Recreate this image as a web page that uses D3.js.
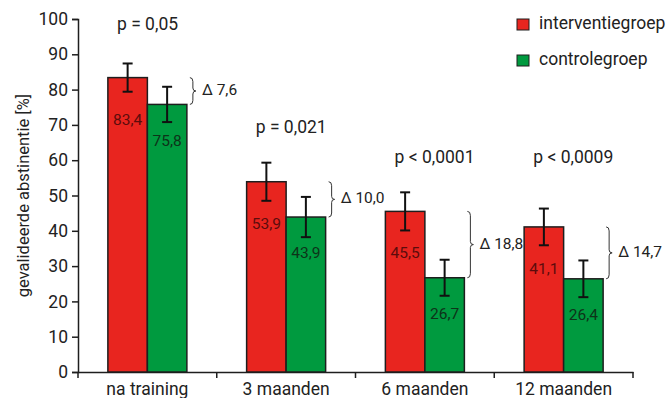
<!DOCTYPE html>
<html>
<head>
<meta charset="utf-8">
<script src="https://cdn.jsdelivr.net/npm/d3@7/dist/d3.min.js"></script>
<style>
  html, body { margin: 0; padding: 0; background: #fff; }
  svg text { font-family: Roboto, "Liberation Sans", sans-serif; fill: #222; }
</style>
</head>
<body>
<svg id="chart" width="669" height="398"></svg>
<script>
// ---- data ----
const categories = ["na training", "3 maanden", "6 maanden", "12 maanden"];
const seriesNames = ["interventiegroep", "controlegroep"];
const interventie = [83.4, 53.9, 45.5, 41.1];
const controle = [75.8, 43.9, 26.7, 26.4];
const errInterventie = [4.0, 5.4, 5.4, 5.2];
const errControle = [5.0, 5.7, 5.1, 5.2];
const pLabels = ["p = 0,05", "p = 0,021", "p < 0,0001", "p < 0,0009"];
const pLabelAt = [98.3, 69.1, 60.6, 60.6];
const deltaLabels = ["Δ 7,6", "Δ 10,0", "Δ 18,8", "Δ 14,7"];
const yTicks = [0, 10, 20, 30, 40, 50, 60, 70, 80, 90, 100];

// ---- layout ----
const svg = d3.select("#chart");
const mLeft = 78, mRight = 633, mTop = 19, mBottom = 372;
const colors = ["#e8251f", "#009a3f"];
const labelColors = ["#5c0c0c", "#0d3319"];

const y = d3.scaleLinear().domain([0, 100]).range([mBottom, mTop]);
const x = d3.scaleBand().domain(categories).range([mLeft, mRight]).padding(0);
const bw = x.bandwidth();
const xs = d3.scaleBand().domain(seriesNames).range([bw / 2 - 39.5, bw / 2 + 39.5]).padding(0);

// axes
const yAxis = svg.append("g").attr("transform", `translate(${mLeft},0)`)
  .call(d3.axisLeft(y).tickValues(yTicks).tickSize(6).tickPadding(4));
yAxis.selectAll("text").style("font-size", "17.5px");
yAxis.select(".domain").attr("stroke", "#1e1e1e").attr("stroke-width", 1.5);
yAxis.selectAll(".tick line").attr("stroke", "#1e1e1e").attr("stroke-width", 1.5);

const xAxis = svg.append("g").attr("transform", `translate(0,${mBottom})`)
  .call(d3.axisBottom(x).tickSize(0).tickPadding(11));
xAxis.selectAll("text").style("font-size", "17.5px");
xAxis.select(".domain").attr("stroke", "#1e1e1e").attr("stroke-width", 1.5);
// boundary ticks
const boundaries = categories.map(c => x(c)).concat([x(categories[categories.length - 1]) + bw]);
xAxis.selectAll(".bt").data(boundaries).join("line").attr("class", "bt")
  .attr("x1", d => d).attr("x2", d => d).attr("y1", 0).attr("y2", 6)
  .attr("stroke", "#1e1e1e").attr("stroke-width", 1.5);

// y title
svg.append("text")
  .attr("transform", `translate(25,${(mTop + mBottom) / 2}) rotate(-90)`)
  .attr("text-anchor", "middle").attr("dominant-baseline", "middle")
  .style("font-size", "16.5px")
  .text("gevalideerde abstinentie [%]");

// bars
const rows = categories.map((c, i) => ({
  cat: c,
  vals: [interventie[i], controle[i]],
  errs: [errInterventie[i], errControle[i]],
  p: pLabels[i], pAt: pLabelAt[i], delta: deltaLabels[i]
}));

const groups = svg.selectAll(".grp").data(rows).join("g")
  .attr("class", "grp").attr("transform", d => `translate(${x(d.cat)},0)`);

seriesNames.forEach((s, si) => {
  groups.append("rect")
    .attr("x", xs(s)).attr("width", xs.bandwidth())
    .attr("y", d => y(d.vals[si])).attr("height", d => mBottom - y(d.vals[si]))
    .attr("fill", colors[si]).attr("stroke", "#1e1e1e").attr("stroke-width", 1.5);
  const cx = xs(s) + xs.bandwidth() / 2;
  // error bars
  groups.append("line")
    .attr("x1", cx).attr("x2", cx)
    .attr("y1", d => y(d.vals[si] + d.errs[si])).attr("y2", d => y(d.vals[si] - d.errs[si]))
    .attr("stroke", "#111").attr("stroke-width", 2);
  [1, -1].forEach(sg => {
    groups.append("line")
      .attr("x1", cx - 5).attr("x2", cx + 5)
      .attr("y1", d => y(d.vals[si] + sg * d.errs[si])).attr("y2", d => y(d.vals[si] + sg * d.errs[si]))
      .attr("stroke", "#111").attr("stroke-width", 2);
  });
  // value labels
  groups.append("text")
    .attr("x", cx).attr("y", d => y(d.vals[si]) + (si === 0 ? 43 : 37))
    .attr("text-anchor", "middle").attr("dominant-baseline", "middle")
    .style("font-size", "15.5px").style("fill", labelColors[si])
    .text(d => d3.format(".1f")(d.vals[si]).replace(".", ","));
});

// braces + delta labels
const gx = xs(seriesNames[1]) + xs.bandwidth();
groups.append("path")
  .attr("d", d => {
    const y1 = y(d.vals[0]), y2 = y(d.vals[1]), m = (y1 + y2) / 2;
    const x0 = gx + 3, x1 = gx + 6, x2 = gx + 9;
    return `M${x0},${y1} Q${x1},${y1} ${x1},${y1 + 4} L${x1},${m - 3} Q${x1},${m} ${x2},${m} ` +
           `Q${x1},${m} ${x1},${m + 3} L${x1},${y2 - 4} Q${x1},${y2} ${x0},${y2}`;
  })
  .attr("fill", "none").attr("stroke", "#333").attr("stroke-width", 1);
groups.append("text")
  .attr("x", gx + 15).attr("y", d => (y(d.vals[0]) + y(d.vals[1])) / 2)
  .attr("dominant-baseline", "middle").style("font-size", "15.5px")
  .text(d => d.delta);

// p labels
groups.append("text")
  .attr("x", 39).attr("y", d => y(d.pAt))
  .attr("dominant-baseline", "middle").style("font-size", "17.5px")
  .text(d => d.p);

// legend
const legend = svg.append("g").attr("transform", "translate(517,19)");
seriesNames.forEach((s, i) => {
  const g = legend.append("g").attr("transform", `translate(0,${i * 36})`);
  g.append("rect").attr("width", 12).attr("height", 11)
    .attr("fill", colors[i]).attr("stroke", "#1e1e1e").attr("stroke-width", 1);
  g.append("text").attr("x", 22).attr("y", 5.5).attr("dominant-baseline", "middle")
    .style("font-size", "17.5px").text(s);
});
</script>
</body>
</html>
